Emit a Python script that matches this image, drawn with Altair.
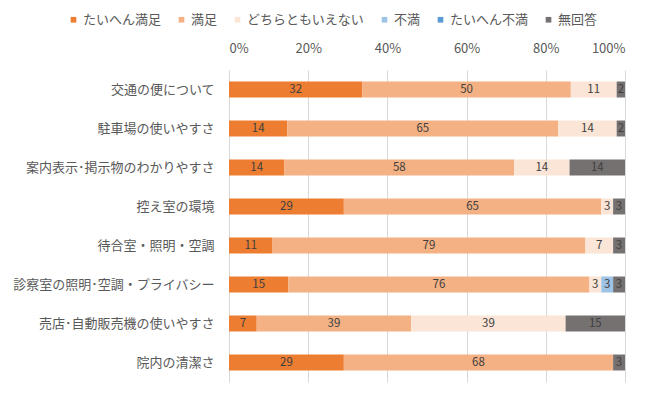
import altair as alt
import pandas as pd

categories = [
    "交通の便について",
    "駐車場の使いやすさ",
    "案内表示･掲示物のわかりやすさ",
    "控え室の環境",
    "待合室・照明・空調",
    "診察室の照明･空調・プライバシー",
    "売店･自動販売機の使いやすさ",
    "院内の清潔さ",
]
series = ["たいへん満足", "満足", "どちらともいえない", "不満", "たいへん不満", "無回答"]
colors = ["#ED7D31", "#F4B183", "#FBE5D6", "#9DC3E6", "#5B9BD5", "#767171"]

very_satisfied = [32, 14, 14, 29, 11, 15, 7, 29]
satisfied = [50, 65, 58, 65, 79, 76, 39, 68]
neutral = [11, 14, 14, 3, 7, 3, 39, 0]
dissatisfied = [0, 0, 0, 0, 0, 3, 0, 0]
very_dissatisfied = [0, 0, 0, 0, 0, 0, 0, 0]
no_answer = [2, 2, 14, 3, 3, 3, 15, 3]

all_vals = [very_satisfied, satisfied, neutral, dissatisfied, very_dissatisfied, no_answer]
rows = []
for i, (name, vals) in enumerate(zip(series, all_vals)):
    for c, v in zip(categories, vals):
        rows.append({"category": c, "series": name, "order": i, "value": v})
df = pd.DataFrame(rows)

FONT = "Noto Sans CJK JP"

yenc = alt.Y(
    "category:N",
    sort=categories,
    scale=alt.Scale(paddingInner=0.59, paddingOuter=0.295),
    axis=alt.Axis(
        title=None, labelFontSize=13, labelColor="#595959", ticks=False,
        domainColor="#D9D9D9", labelPadding=15, labelLimit=400, grid=False,
    ),
)

base = alt.Chart(df)

bars = base.mark_bar().encode(
    x=alt.X(
        "value:Q",
        stack="normalize",
        scale=alt.Scale(domain=[0, 1], nice=False),
        axis=alt.Axis(
            orient="top", format=".0%", values=[0, 0.2, 0.4, 0.6, 0.8, 1.0],
            title=None, domain=False, ticks=False, labelFontSize=13,
            labelColor="#595959", labelPadding=15, gridColor="#D9D9D9",
        ),
    ),
    y=yenc,
    color=alt.Color(
        "series:N",
        scale=alt.Scale(domain=series, range=colors),
        legend=alt.Legend(
            title=None, orient="none", legendX=-162, legendY=-57,
            direction="horizontal", columns=6, symbolType="square",
            symbolSize=32, symbolStrokeWidth=0, labelFontSize=13,
            labelColor="#595959", columnPadding=13, labelOffset=3,
        ),
    ),
    order=alt.Order("order:Q"),
)

labels = (
    base.transform_joinaggregate(total="sum(value)", groupby=["category"])
    .transform_window(cum="sum(value)", sort=[alt.SortField("order")],
                      groupby=["category"], frame=[None, 0])
    .transform_calculate(mid="(datum.cum - datum.value / 2) / datum.total")
    .transform_filter("datum.value > 0")
    .mark_text(fontSize=11.5, color="#404040")
    .encode(
        x=alt.X("mid:Q", scale=alt.Scale(domain=[0, 1], nice=False)),
        y=yenc,
        text=alt.Text("value:Q"),
    )
)

chart = (
    alt.layer(bars, labels)
    .properties(
        width=396, height=312,
        autosize=alt.AutoSizeParams(type="none"),
        padding={"left": 221, "top": 62, "right": 20, "bottom": 8},
    )
    .configure(font=FONT)
    .configure_view(stroke=None)
)

chart.save("out.html", embed_options={"renderer": "svg", "actions": False})
